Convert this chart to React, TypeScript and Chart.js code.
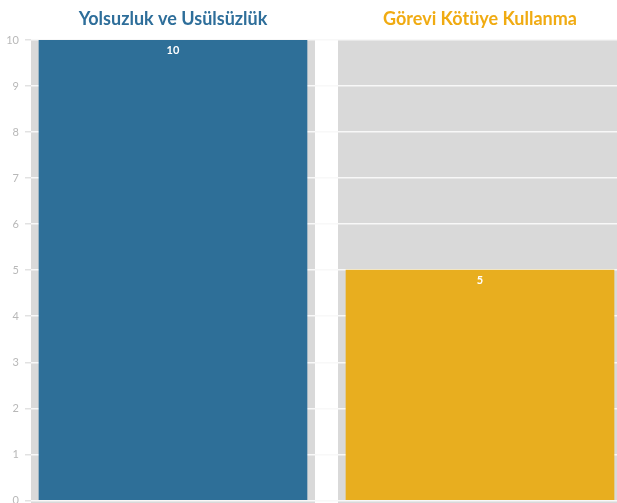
import React, { useEffect, useRef } from "react";
import { Chart, registerables } from "chart.js";

Chart.register(...registerables);

const categories = ["Yolsuzluk ve Usülsüzlük", "Görevi Kötüye Kullanma"];
const values = [10, 5];
const barColors = ["#2e6f98", "#e8ae1f"];
const titleColors = ["#2e6e9a", "#f0ab12"];
const yMin = 0;
const yMax = 10;
const yStep = 1;

const panelPlugin = {
  id: "panels",
  beforeDraw(chart: any) {
    const { ctx, chartArea, scales } = chart;
    const x = scales.x;
    ctx.save();
    ctx.fillStyle = "#d9d9d9";
    categories.forEach((_, i) => {
      const px = x.getPixelForValue(i);
      ctx.fillRect(px - 142, chartArea.top, 284, chartArea.bottom - chartArea.top + 20);
    });
    ctx.restore();
  },
  afterDatasetsDraw(chart: any) {
    const { ctx } = chart;
    const meta = chart.getDatasetMeta(0);
    ctx.save();
    ctx.fillStyle = "#ffffff";
    ctx.font = "bold 11px Lato";
    ctx.textAlign = "center";
    ctx.textBaseline = "middle";
    meta.data.forEach((bar: any, i: number) => {
      ctx.fillText(String(values[i]), bar.x, bar.y + 10);
    });
    ctx.restore();
  },
};

export default function App() {
  const ref = useRef<HTMLCanvasElement>(null);
  useEffect(() => {
    if (!ref.current) return;
    Chart.defaults.font.family = "Lato";
    const chart = new Chart(ref.current, {
      type: "bar",
      data: {
        datasets: [
          {
            data: values.map((v, i) => ({ x: i, y: v })),
            backgroundColor: barColors,
            barThickness: 268,
            borderWidth: 0,
          },
        ],
      },
      options: {
        animation: false,
        responsive: true,
        maintainAspectRatio: false,
        layout: { padding: 0 },
        plugins: { legend: { display: false }, tooltip: { enabled: false } },
        scales: {
          x: {
            type: "linear",
            position: "top",
            offset: false,
            min: -0.4625,
            max: 1.4723,
            grid: { display: false, offset: false },
            border: { display: false },
            afterBuildTicks: (s: any) => {
              s.ticks = categories.map((_, i) => ({ value: i }));
            },
            afterFit: (s: any) => {
              s.height = 40;
            },
            ticks: {
              autoSkip: false,
              maxRotation: 0,
              padding: 2,
              callback: (v: any) => categories[v as number] ?? "",
              color: (c: any) => titleColors[c.index] ?? "#000",
              font: { size: 18, weight: "bold" },
            },
          },
          y: {
            min: yMin,
            max: yMax,
            afterFit: (s: any) => {
              s.width = 31;
            },
            border: { display: false },
            grid: {
              color: "#f8f8f8",
              tickColor: "#e2e2e2",
              lineWidth: 1.5,
              tickLength: 6,
            },
            ticks: {
              stepSize: yStep,
              color: "#b8b8b8",
              padding: 6,
              font: { size: 11 },
            },
          },
        },
      },
      plugins: [panelPlugin],
    });
    return () => chart.destroy();
  }, []);
  return (
    <div style={{ position: "fixed", left: 0, top: 0, width: 617, height: 503, overflow: "hidden", background: "#fff" }}>
      <div style={{ position: "relative", width: 625, height: 513 }}>
        <canvas ref={ref} />
      </div>
    </div>
  );
}
